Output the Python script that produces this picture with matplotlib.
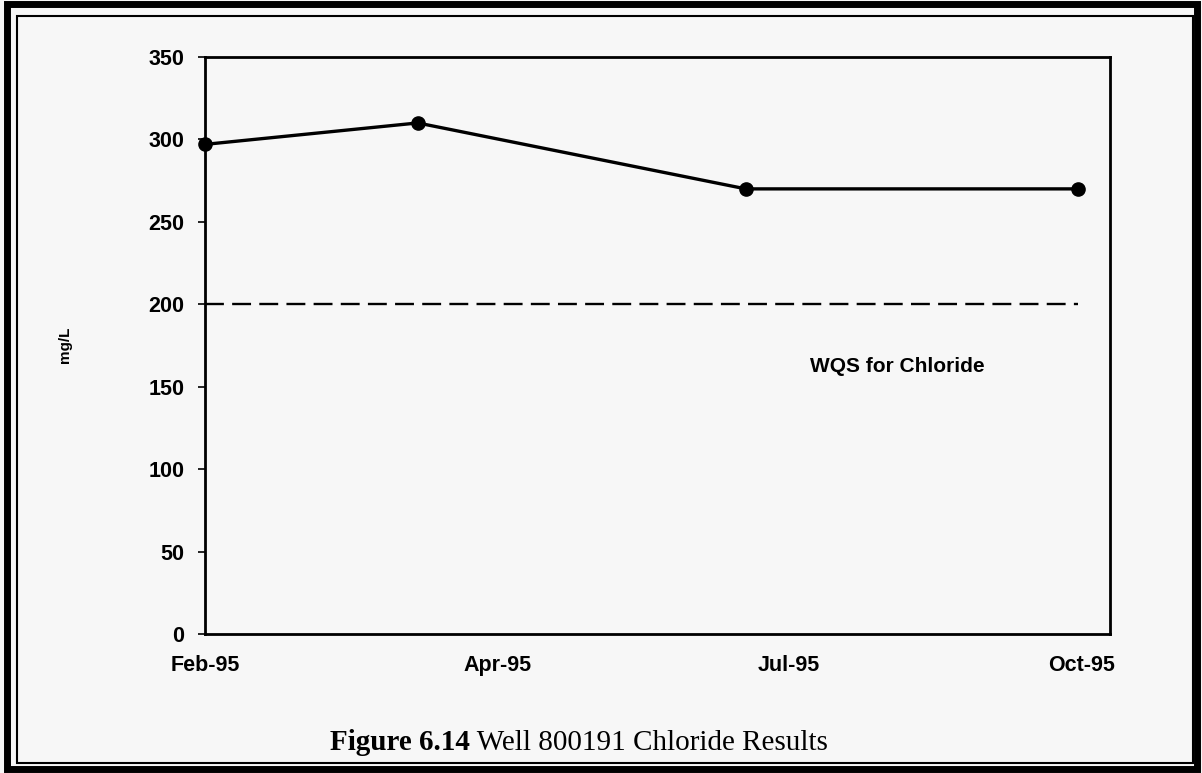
import matplotlib
matplotlib.use('Agg')
import matplotlib.pyplot as plt
from matplotlib.patches import Rectangle
from datetime import datetime, timedelta

# sample dates and chloride results (mg/L)
dates = [datetime(1995, 2, 1), datetime(1995, 4, 1), datetime(1995, 7, 1), datetime(1995, 10, 1)]
chloride = [297, 310, 270, 270]
wqs = [200, 200, 200, 200]

# x tick spacing Excel picked
tick_dates = [datetime(1995, 2, 1) + timedelta(days=81 * i) for i in range(4)]
tick_labels = ['Feb-95', 'Apr-95', 'Jul-95', 'Oct-95']
y_ticks = [0, 50, 100, 150, 200, 250, 300, 350]

bg = '#f7f7f7'
plt.rcParams['font.family'] = ['Liberation Sans', 'DejaVu Sans']

fig = plt.figure(figsize=(12.02, 7.73), dpi=100, facecolor=bg)
ax = fig.add_axes([205 / 1202, 1 - 634 / 773, 905 / 1202, 577 / 773])
ax.set_facecolor(bg)

ax.plot(dates, wqs, color='black', linewidth=1.7, dashes=(8, 3.5))
ax.plot(dates, chloride, color='black', linewidth=2.4, marker='o', markersize=9.5)

ax.set_ylim(0, 350)
ax.set_yticks(y_ticks)
ax.set_xlim(datetime(1995, 2, 1), datetime(1995, 2, 1) + timedelta(days=251))
ax.set_xticks(tick_dates)
ax.set_xticklabels(tick_labels)
ax.tick_params(axis='x', length=0, pad=15, labelsize=15.5)
ax.tick_params(axis='y', length=5, width=1.2, direction='out', pad=10, labelsize=15.5)
for lab in ax.get_xticklabels() + ax.get_yticklabels():
    lab.set_fontweight('bold')
for sp in ax.spines.values():
    sp.set_linewidth(2)
for ln in ax.lines:
    ln.set_clip_on(False)

ax.text(0.668, 0.463, 'WQS for Chloride', transform=ax.transAxes,
        fontsize=15, fontweight='bold', va='center', ha='left')
fig.text(65 / 1202, 1 - 345 / 773, 'mg/L', rotation=90, fontsize=11,
         fontweight='bold', ha='center', va='center')

# caption
t1 = fig.text(330 / 1202, 1 - 743 / 773, 'Figure 6.14', fontsize=21,
              fontweight='bold', family='Liberation Serif', ha='left', va='center')
ax.annotate(' Well 800191 Chloride Results', xy=(1, 0.5), xycoords=t1,
            fontsize=21, family='Liberation Serif', ha='left', va='center',
            annotation_clip=False)

# page frame: thick outer line and thin inner line
W, H = 1202, 773
fig.patches.append(Rectangle((7 / W, 4 / H), 1190 / W, 765 / H, transform=fig.transFigure,
                             fill=False, edgecolor='black', linewidth=5))
fig.patches.append(Rectangle((17 / W, 10 / H), 1176 / W, 747 / H, transform=fig.transFigure,
                             fill=False, edgecolor='black', linewidth=1.5))

fig.savefig('out.png', dpi=100, facecolor=bg)
